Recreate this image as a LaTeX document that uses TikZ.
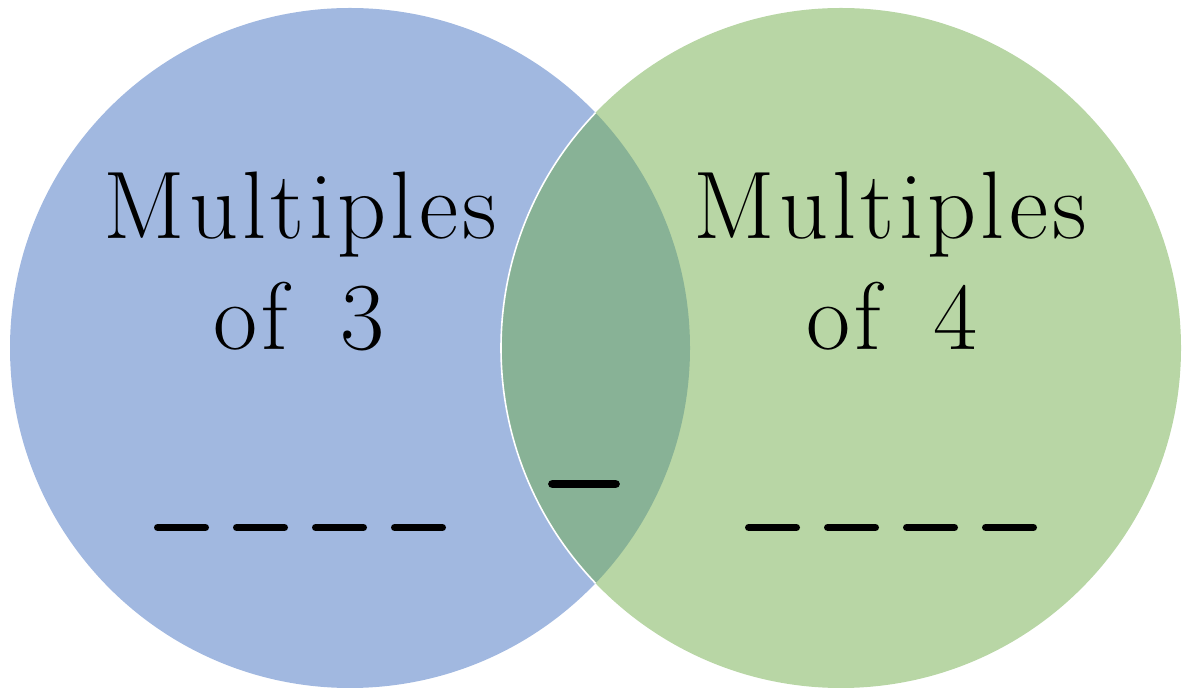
\documentclass[tikz,border=0pt]{standalone}
\usepackage{fontspec}
\definecolor{setA}{RGB}{161,184,224}
\definecolor{setB}{RGB}{184,214,165}
\definecolor{setAB}{RGB}{136,178,150}
\newfontfamily\labelfont[LetterSpace=4.5]{Latin Modern Roman}
\tikzset{
  label text/.style={anchor=base, inner sep=0pt, font=\labelfont\fontsize{48}{55}\selectfont, text=black},
  blank/.style={line width=3.6pt, line cap=round, draw=black}
}
\begin{document}
\begin{tikzpicture}[x=0.5pt, y=-0.5pt]
  \useasboundingbox (0,0) rectangle (1182,688);
  % the two sets
  \fill[setA] (350,348) circle [radius=340];
  \fill[setB] (841,348) circle [radius=340];
  % their intersection
  \begin{scope}
    \clip (350,348) circle [radius=340];
    \fill[setAB] (841,348) circle [radius=340];
    \draw[white, line width=0.8pt] (841,348) circle [radius=340];
  \end{scope}
  % labels
  \node[label text] (a1) at (300,239) {Multiples};
  \node[label text] (a2) at (299,350) {of\hspace{0.55em}3};
  \node[label text] (b1) at (890,239) {Multiples};
  \node[label text] (b2) at (892,350) {of\hspace{0.55em}4};
  % answer blanks
  \foreach \x in {154,233,312,391}
    \draw[blank] (\x+3.6,527.5) -- (\x+55-3.6,527.5);
  \foreach \x in {745,824,903,982}
    \draw[blank] (\x+3.6,527.5) -- (\x+55-3.6,527.5);
  \draw[blank, line width=4.4pt] (552.5,484) -- (615.5,484);
\end{tikzpicture}
\end{document}
